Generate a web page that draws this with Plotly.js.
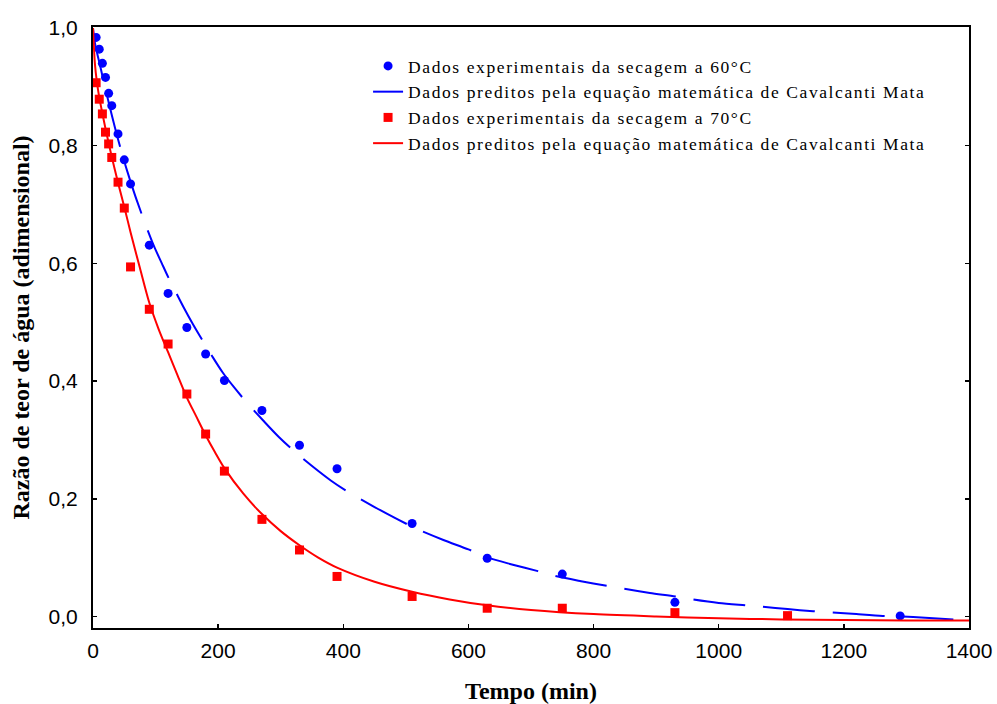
<!DOCTYPE html>
<html>
<head>
<meta charset="utf-8">
<script src="https://cdn.plot.ly/plotly-3.0.1.min.js"></script>
<style>
html,body{margin:0;padding:0;background:#fff;}
#chart{width:997px;height:704px;}
.legendtext{letter-spacing:1.6px;}
</style>
</head>
<body>
<div id="chart"></div>
<script>
// Experimental data, 60 °C
var time60 = [5,10,15,20,25,30,40,50,60,90,120,150,180,210,270,330,390,510,630,750,930,1290];
var mr60   = [0.984,0.964,0.940,0.916,0.889,0.868,0.820,0.776,0.735,0.631,0.549,0.491,0.446,0.401,0.350,0.291,0.251,0.158,0.099,0.072,0.024,0.001];

// Predicted curve, 60 °C
var fitTime60 = [0,3,6,10,15,20,30,40,50,60,70,85,98,110,120,131,145,160,175,190,207,225,243,272,297,330,380,407,450,487,517,560,600,631,671,711,738,780,821,849,890,931,959,1000,1042,1069,1110,1151,1180,1220,1262,1289,1330,1375];
var fit60     = [1.0,0.975,0.96,0.942,0.919,0.896,0.852,0.811,0.773,0.739,0.707,0.663,0.628,0.6,0.577,0.554,0.525,0.496,0.469,0.443,0.415,0.39,0.367,0.333,0.305,0.273,0.231,0.212,0.186,0.165,0.149,0.13,0.114,0.1,0.088,0.077,0.069,0.06,0.052,0.047,0.04,0.034,0.029,0.023,0.019,0.0165,0.0125,0.009,0.007,0.004,0.001,0.0,-0.002,-0.005];

// Experimental data, 70 °C
var time70 = [5,10,15,20,25,30,40,50,60,90,120,150,180,210,270,330,390,510,630,750,930,1110];
var mr70   = [0.907,0.879,0.854,0.823,0.803,0.780,0.738,0.694,0.594,0.522,0.463,0.378,0.310,0.247,0.165,0.113,0.068,0.034,0.014,0.014,0.0065,0.0014];

// Predicted curve, 70 °C
var fitTime70 = [0,3,6,10,15,20,30,40,50,60,75,90,105,120,135,150,165,180,195,210,240,270,300,330,360,390,450,510,570,630,700,800,900,1000,1100,1200,1300,1400];
var fit70     = [1.0,0.94,0.91,0.882,0.855,0.829,0.781,0.737,0.696,0.653,0.592,0.533,0.488,0.449,0.41,0.372,0.34,0.308,0.279,0.252,0.209,0.174,0.145,0.121,0.1,0.083,0.059,0.042,0.029,0.019,0.011,0.004,0.0,-0.003,-0.005,-0.006,-0.007,-0.007];

var xTicks = [0,200,400,600,800,1000,1200,1400];
var yTicks = [0,0.2,0.4,0.6,0.8,1.0];

var nameExp60 = 'Dados experimentais da secagem a 60°C';
var nameExp70 = 'Dados experimentais da secagem a 70°C';
var namePred  = 'Dados preditos pela equação matemática de Cavalcanti Mata';

var traces = [
  {x: time60, y: mr60, mode: 'markers', name: nameExp60,
   marker: {symbol: 'circle', size: 9, color: '#0000ff'}},
  {x: fitTime60, y: fit60, mode: 'lines', name: namePred,
   line: {color: '#0000ff', width: 2, dash: '52px,18px', shape: 'spline', smoothing: 0.8}},
  {x: time70, y: mr70, mode: 'markers', name: nameExp70,
   marker: {symbol: 'square', size: 9, color: '#ff0000'}},
  {x: fitTime70, y: fit70, mode: 'lines', name: namePred,
   line: {color: '#ff0000', width: 2, shape: 'spline', smoothing: 0.8}}
];

var tickFont = {family: 'Liberation Sans, Arial, sans-serif', size: 21, color: '#000'};
var titleFont = {family: 'Liberation Serif, Times New Roman, serif', size: 24, color: '#000', weight: 'bold'};

var layout = {
  width: 997, height: 704,
  margin: {l: 93, r: 28, t: 27, b: 76, pad: 0},
  paper_bgcolor: '#fff', plot_bgcolor: '#fff',
  separators: ',.',
  showlegend: true,
  legend: {
    x: 0.314, xanchor: 'left', y: 0.965, yanchor: 'top',
    bgcolor: 'rgba(0,0,0,0)', borderwidth: 0, tracegroupgap: 0,
    font: {family: 'Liberation Serif, Times New Roman, serif', size: 17.5, color: '#000'}
  },
  xaxis: {
    range: [0, 1400], tickvals: xTicks, tickformat: 'd',
    showgrid: false, zeroline: false,
    showline: true, linecolor: '#000', linewidth: 2, mirror: true,
    ticks: 'inside', ticklen: 4, tickwidth: 1.5, tickcolor: '#000',
    tickfont: tickFont, ticklabelstandoff: 3,
    title: {text: 'Tempo (min)', font: titleFont, standoff: 22}
  },
  yaxis: {
    range: [-0.0196, 1.0017], tickvals: yTicks, tickformat: '.1f',
    showgrid: false, zeroline: false,
    showline: true, linecolor: '#000', linewidth: 2, mirror: 'ticks',
    ticks: 'inside', ticklen: 4, tickwidth: 1.5, tickcolor: '#000',
    tickfont: tickFont, ticklabelstandoff: 9,
    title: {text: 'Razão de teor de água (adimensional)', font: titleFont, standoff: 12}
  }
};

Plotly.newPlot('chart', traces, layout, {displayModeBar: false, staticPlot: true});
</script>
</body>
</html>
